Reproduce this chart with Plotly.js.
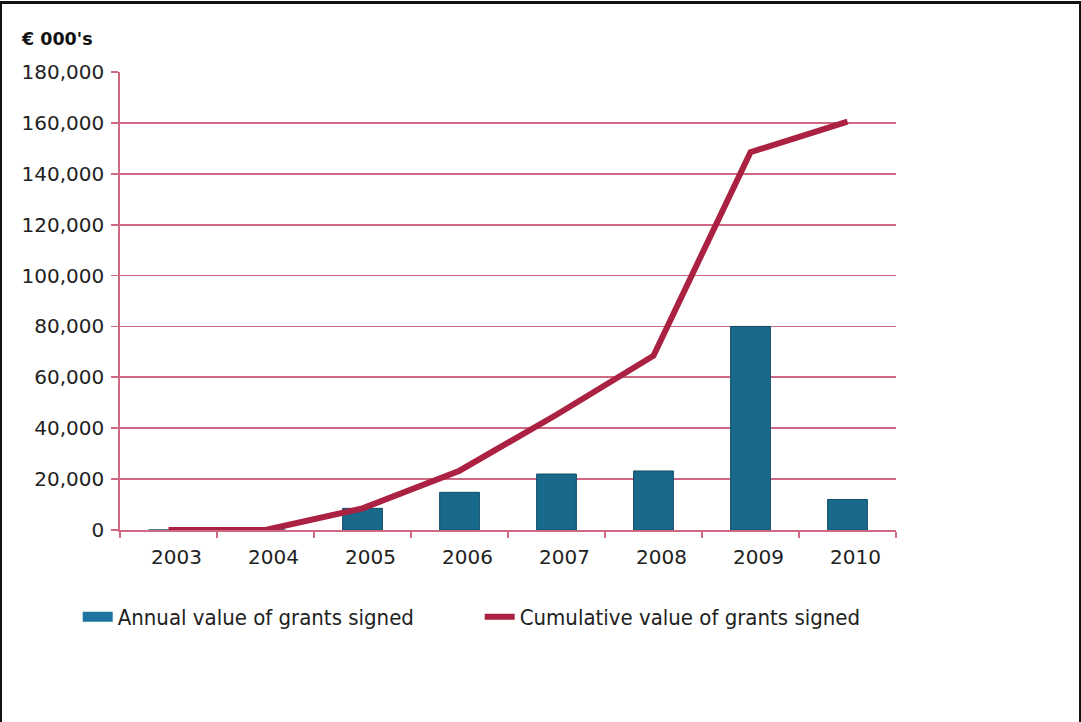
<!DOCTYPE html>
<html>
<head>
<meta charset="utf-8">
<script src="https://cdn.plot.ly/plotly-3.0.1.min.js"></script>
<style>
  html, body { margin: 0; padding: 0; background: #fff; }
  #chart { width: 1081px; height: 722px; position: relative; }
  #frame { position: absolute; left: 0; top: 1px; width: 1077px; height: 730px;
           border-top: 3px solid #111; border-left: 2px solid #111; border-right: 2px solid #111;
           pointer-events: none; }
</style>
</head>
<body>
<div id="chart"></div>
<div id="frame"></div>
<script>
const years = ['2003', '2004', '2005', '2006', '2007', '2008', '2009', '2010'];
const annualValues = [0, 0, 8500, 14800, 22000, 23200, 80000, 12000];
const cumulativeValues = [0, 0, 8500, 23300, 45300, 68500, 148500, 160500];
const seriesNames = ['Annual value of grants signed', 'Cumulative value of grants signed'];
const yTickValues = [0, 20000, 40000, 60000, 80000, 100000, 120000, 140000, 160000, 180000];
const yTickLabels = ['0', '20,000', '40,000', '60,000', '80,000', '100,000', '120,000', '140,000', '160,000', '180,000'];

const gridColor = '#CF6882';
const lineColor = '#AB2142';
const barColor = '#19698B';

const traces = [
  {
    type: 'bar', name: seriesNames[0], showlegend: false,
    x: years, y: annualValues, width: 0.41,
    marker: { color: barColor, line: { color: '#0F4E69', width: 1 } }
  },
  {
    // legend swatch for the bars (wide bar-coloured strip as in the original legend)
    type: 'scatter', mode: 'lines', name: seriesNames[0],
    x: [null], y: [null],
    line: { color: '#1E74A0', width: 10 }
  },
  {
    type: 'scatter', mode: 'lines', name: seriesNames[1],
    x: years, y: cumulativeValues,
    line: { color: lineColor, width: 6 }
  }
];

const layout = {
  width: 1081, height: 722,
  margin: { l: 120, r: 185, t: 72, b: 192 },
  paper_bgcolor: '#fff', plot_bgcolor: '#fff',
  font: { family: 'DejaVu Sans, Verdana, sans-serif', size: 20, color: '#222' },
  showlegend: true,
  legend: {
    orientation: 'h', x: -0.0545, xanchor: 'left', y: -0.144, yanchor: 'top',
    entrywidth: 357, entrywidthmode: 'pixels',
    font: { family: 'DejaVu Sans Condensed, DejaVu Sans, sans-serif', size: 22, color: '#222' },
    itemwidth: 30, traceorder: 'normal'
  },
  annotations: [{
    text: '<b>€ 000\'s</b>', xref: 'paper', yref: 'paper', x: -0.13, y: 1.045,
    xanchor: 'left', yanchor: 'bottom', showarrow: false,
    font: { family: 'DejaVu Sans, Verdana, sans-serif', size: 17.5, color: '#111' }
  }],
  xaxis: {
    type: 'category', range: [-0.5, 7.5], fixedrange: true,
    showline: true, linecolor: gridColor, linewidth: 1.8,
    ticks: 'outside', tickson: 'boundaries', ticklen: 6, tickcolor: gridColor, tickwidth: 1.8,
    showgrid: false, ticklabelshift: 8, ticklabelstandoff: 8,
    tickfont: { size: 20, color: '#222' }
  },
  yaxis: {
    range: [0, 180000], fixedrange: true,
    tickvals: yTickValues, ticktext: yTickLabels,
    showline: true, linecolor: gridColor, linewidth: 1.8,
    ticks: 'outside', ticklen: 7, tickcolor: gridColor, tickwidth: 1.8,
    showgrid: true, gridcolor: gridColor, gridwidth: 1.8,
    zeroline: false, ticklabelstandoff: 3,
    tickfont: { size: 20, color: '#222' }
  }
};

Plotly.newPlot('chart', traces, layout, { displayModeBar: false, staticPlot: true });
</script>
</body>
</html>
